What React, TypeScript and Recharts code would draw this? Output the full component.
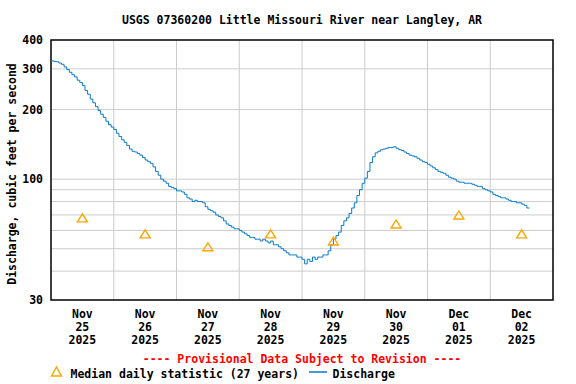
import React from 'react';
import {
  ComposedChart,
  Line,
  Scatter,
  XAxis,
  YAxis,
  CartesianGrid,
  ReferenceArea,
} from 'recharts';

// hourly discharge (cfs), one array per day, starting at midnight
const nov25 = [325, 323, 322, 318, 314, 306, 298, 290, 283, 277, 268, 262, 254, 242, 233, 222, 214, 206, 198, 191, 185, 178, 172, 168];
const nov26 = [164, 158, 153, 148, 144, 140, 135, 132, 131, 129, 127, 124, 121, 119, 117, 113, 108, 104, 100, 98, 96, 93, 92, 91];
const nov27 = [89, 89, 88, 86, 83, 82, 80, 81, 80, 80, 79, 76, 74, 73, 72, 70, 69, 68, 66, 64, 63, 62, 61, 61];
const nov28 = [60, 59, 58, 57, 56, 56, 55, 55, 54, 55, 54, 53, 54, 52, 52, 51, 50, 49, 48, 47, 47, 47, 46, 46];
const nov29 = [45, 43, 45, 44, 46, 45, 46, 46, 47, 47, 49, 52, 55, 57, 59, 63, 66, 68, 71, 75, 79, 85, 90, 96];
const nov30 = [101, 108, 118, 125, 130, 132, 134, 135, 136, 137, 137, 138, 136, 134, 133, 131, 129, 127, 126, 125, 123, 121, 119, 118];
const dec01 = [116, 114, 112, 110, 108, 107, 106, 104, 102, 101, 100, 98, 97, 97, 96, 96, 96, 95, 94, 93, 93, 91, 90, 89];
const dec02 = [88, 86, 85, 84, 83, 83, 82, 81, 80, 80, 79, 79, 78, 77, 75, 75];

// median daily statistic, plotted at noon of each day
const medianDays = [0.5, 1.5, 2.5, 3.5, 4.5, 5.5, 6.5, 7.5];
const medianValues = [68, 58, 51, 58, 54, 64, 70, 58];

const dayLabels = [
  ['Nov', '25', '2025'],
  ['Nov', '26', '2025'],
  ['Nov', '27', '2025'],
  ['Nov', '28', '2025'],
  ['Nov', '29', '2025'],
  ['Nov', '30', '2025'],
  ['Dec', '01', '2025'],
  ['Dec', '02', '2025'],
];

const X_DOMAIN = [0, 8];
const Y_DOMAIN = [30, 400];
const yTicks = [30, 100, 200, 300, 400];
const yGrid = [40, 50, 60, 70, 80, 90, 100, 200, 300];
const xGrid = [1, 2, 3, 4, 5, 6, 7];

const FONT = '"DejaVu Sans Mono", "Liberation Mono", monospace';
const LINE_COLOR = '#0a7acb';
const MEDIAN_COLOR = '#ffa500';

const discharge = [nov25, nov26, nov27, nov28, nov29, nov30, dec01, dec02].flatMap((day, d) =>
  day.map((q, h) => ({ t: d + h / 24, q })),
);

const medians = medianDays.map((t, i) => ({ t, m: medianValues[i] }));

// grid positions follow the same linear / log mapping as the axes
const gridX = ({ offset }: any) =>
  xGrid.map((d) => offset.left + (offset.width * (d - X_DOMAIN[0])) / (X_DOMAIN[1] - X_DOMAIN[0]));
const gridY = ({ offset }: any) => {
  const lo = Math.log(Y_DOMAIN[0]);
  const hi = Math.log(Y_DOMAIN[1]);
  return yGrid.map((v) => offset.top + (offset.height * (hi - Math.log(v))) / (hi - lo));
};

const Triangle = (props: any) => {
  const { cx, cy } = props;
  if (cx == null || cy == null) return null;
  return (
    <polygon
      points={`${cx - 5},${cy + 4} ${cx},${cy - 4} ${cx + 5},${cy + 4}`}
      fill="none"
      stroke={MEDIAN_COLOR}
      strokeWidth={1.4}
    />
  );
};

const DayTick = (props: any) => {
  const { x, y, payload } = props;
  const idx = Math.floor(payload.value);
  const lines = dayLabels[idx] || [];
  return (
    <text x={x} y={y} textAnchor="middle" fontFamily={FONT} fontWeight="bold" fontSize={11.5} fill="#000">
      {lines.map((s, i) => (
        <tspan key={i} x={x} y={y + 18 + i * 13}>
          {s}
        </tspan>
      ))}
    </text>
  );
};

const ValueTick = (props: any) => {
  const { x, y, payload } = props;
  return (
    <text x={x} y={y + 4} textAnchor="end" fontFamily={FONT} fontWeight="bold" fontSize={11.5} fill="#000">
      {payload.value}
    </text>
  );
};

const YLabel = (props: any) => {
  const vb = props.viewBox || { x: 0, y: 40, width: 51, height: 260 };
  const x = vb.x + 16;
  const y = vb.y + vb.height / 2 + 4;
  return (
    <text
      x={x}
      y={y}
      transform={`rotate(-90 ${x} ${y})`}
      textAnchor="middle"
      fontFamily={FONT}
      fontWeight="bold"
      fontSize={11.5}
      fill="#000"
    >
      Discharge, cubic feet per second
    </text>
  );
};

const textStyle: React.CSSProperties = {
  position: 'absolute',
  fontFamily: FONT,
  fontWeight: 'bold',
  fontSize: 11.5,
  lineHeight: '14px',
  whiteSpace: 'pre',
};

export default function App() {
  return (
    <div style={{ position: 'absolute', left: 0, top: 0, width: 576, height: 384, background: '#fff', overflow: 'hidden' }}>
      <div style={{ ...textStyle, left: 51, width: 502, top: 13, textAlign: 'center' }}>
        USGS 07360200 Little Missouri River near Langley, AR
      </div>
      <div style={{ position: 'absolute', left: 0, top: 0 }}>
        <ComposedChart width={576} height={384} margin={{ top: 40, right: 23, left: 0, bottom: 0 }}>
          <CartesianGrid
            stroke="#cccccc"
            strokeWidth={1}
            verticalCoordinatesGenerator={gridX}
            horizontalCoordinatesGenerator={gridY}
          />
          <XAxis
            dataKey="t"
            type="number"
            domain={X_DOMAIN}
            ticks={medianDays}
            allowDataOverflow
            height={84}
            tickLine={false}
            tickSize={0}
            tickMargin={0}
            axisLine={false}
            tick={<DayTick />}
            interval={0}
          />
          <YAxis
            scale="log"
            domain={Y_DOMAIN}
            ticks={yTicks}
            allowDataOverflow
            width={51}
            tickLine={false}
            tickSize={0}
            tickMargin={8}
            axisLine={false}
            tick={<ValueTick />}
            interval={0}
            label={<YLabel />}
          />
          <Line
            data={discharge}
            dataKey="q"
            type="stepAfter"
            stroke={LINE_COLOR}
            strokeWidth={1}
            dot={false}
            isAnimationActive={false}
          />
          <Scatter data={medians} dataKey="m" shape={<Triangle />} isAnimationActive={false} />
          <ReferenceArea x1={0} x2={8} y1={30} y2={400} fill="none" stroke="#000" strokeWidth={1.5} ifOverflow="visible" />
        </ComposedChart>
      </div>
      <div style={{ ...textStyle, left: 51, width: 502, top: 351.5, textAlign: 'center', color: '#ff0000' }}>
        ---- Provisional Data Subject to Revision ----
      </div>
      <svg style={{ position: 'absolute', left: 50, top: 365 }} width={14} height={14}>
        <polygon points="1.5,11 6.5,2 11.5,11" fill="none" stroke={MEDIAN_COLOR} strokeWidth={1.4} />
      </svg>
      <div style={{ ...textStyle, left: 70.5, top: 366.5 }}>Median daily statistic (27 years)</div>
      <svg style={{ position: 'absolute', left: 309, top: 365 }} width={18} height={14}>
        <line x1={0} y1={7} x2={18} y2={7} stroke={LINE_COLOR} strokeWidth={1.5} />
      </svg>
      <div style={{ ...textStyle, left: 332.5, top: 366.5 }}>Discharge</div>
    </div>
  );
}
